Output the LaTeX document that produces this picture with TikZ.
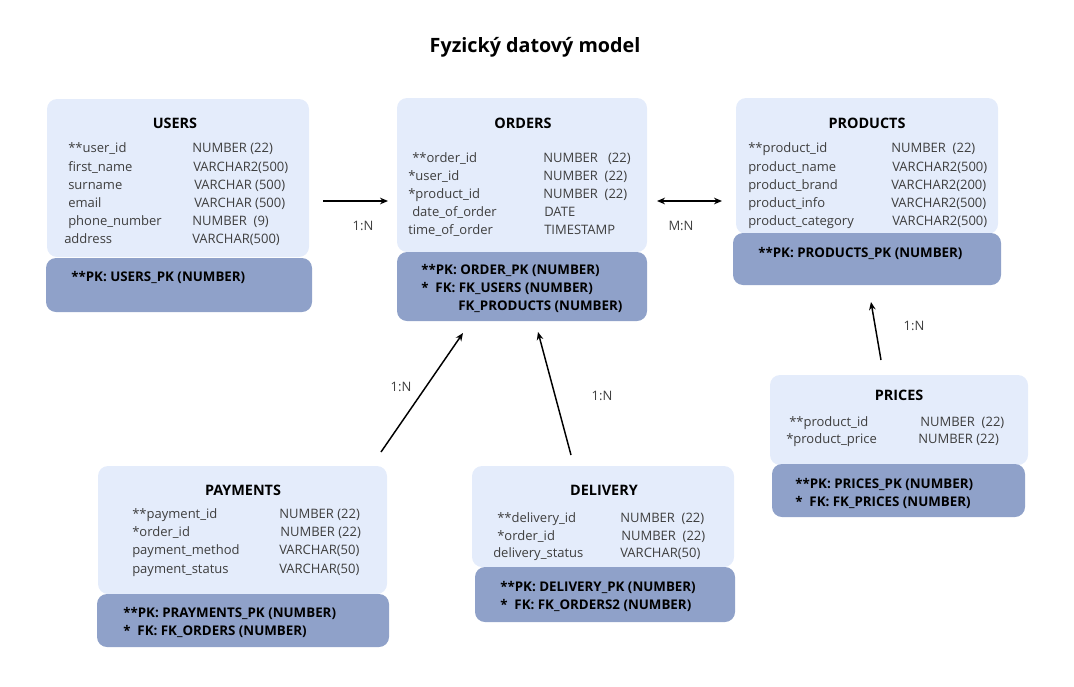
\documentclass[tikz,border=0pt]{standalone}
\usepackage{fontspec}
\setmainfont{Open Sans}
\usetikzlibrary{arrows.meta}
\definecolor{lightbox}{RGB}{228,236,251}
\definecolor{darkbox}{RGB}{143,161,201}
\definecolor{txtgray}{RGB}{62,62,62}
\tikzset{
 lbox/.style={fill=lightbox, rounded corners=7.5pt},
 dbox/.style={fill=darkbox, rounded corners=7.5pt},
 ttl/.style={anchor=mid, inner sep=0, yshift=-1.5pt, font=\fontsize{10.8}{13}\selectfont\bfseries},
 head/.style={anchor=mid, inner sep=0, yshift=-2.25pt, font=\fontsize{14.8}{18}\selectfont\bfseries},
 fld/.style={anchor=mid west, inner sep=0, yshift=-1.5pt, text=txtgray, font=\fontsize{9.75}{12}\selectfont},
 pk/.style={anchor=mid west, inner sep=0, yshift=-1.5pt, font=\fontsize{10}{12}\selectfont\bfseries},
 rel/.style={anchor=mid, inner sep=0, yshift=-1.5pt, text=txtgray, font=\fontsize{9.75}{12}\selectfont},
 conn/.style={line width=1.1pt, -{Stealth[length=6pt,width=5pt]}},
 conn2/.style={line width=1.1pt, {Stealth[length=6pt,width=5pt]}-{Stealth[length=6pt,width=5pt]}},
}
\begin{document}
\begin{tikzpicture}[x=0.75pt,y=-0.75pt]
\useasboundingbox (0,0) rectangle (1074,686);
\node[head] (title) at (535,46) {Fyzický datový model};

% USERS
\fill[lbox] (47,99) rectangle (309,257);
\fill[dbox] (46,258) rectangle (312,312);
\node[ttl] (usersT) at (175,123) {USERS};
\node[fld] (u1) at (68,147) {**user\_id};
\node[fld] (u2) at (68,166) {first\_name};
\node[fld] (u3) at (68,184) {surname};
\node[fld] (u4) at (68,202) {email};
\node[fld] (u5) at (68,220) {phone\_number};
\node[fld] (u6) at (64,238) {address};
\node[fld] (ut1) at (192,147) {NUMBER (22)};
\node[fld] (ut2) at (193,166) {VARCHAR2(500)};
\node[fld] (ut3) at (194,184) {VARCHAR (500)};
\node[fld] (ut4) at (194,202) {VARCHAR (500)};
\node[fld] (ut5) at (192,220) {NUMBER~ (9)};
\node[fld] (ut6) at (192,238) {VARCHAR(500)};
\node[pk] (upk) at (71,276) {**PK: USERS\_PK (NUMBER)};

% ORDERS
\fill[lbox] (397,98) rectangle (647,252);
\fill[dbox] (397,252) rectangle (647,321);
\node[ttl] (ordersT) at (523,123) {ORDERS};
\node[fld] (o1) at (412,157) {**order\_id};
\node[fld] (o2) at (408,175) {*user\_id};
\node[fld] (o3) at (408,193) {*product\_id};
\node[fld] (o4) at (412,211) {date\_of\_order};
\node[fld] (o5) at (408,229) {time\_of\_order};
\node[fld] (ot1) at (543,157) {NUMBER~~ (22)};
\node[fld] (ot2) at (543,175) {NUMBER~ (22)};
\node[fld] (ot3) at (543,193) {NUMBER~ (22)};
\node[fld] (ot4) at (544,211) {DATE};
\node[fld] (ot5) at (544,229) {TIMESTAMP};
\node[pk] (opk1) at (421,269) {**PK: ORDER\_PK (NUMBER)};
\node[pk] (opk2) at (421,287) {*~ FK: FK\_USERS (NUMBER)};
\node[pk] (opk3) at (458,305) {FK\_PRODUCTS (NUMBER)};

% PRODUCTS
\fill[lbox] (736,98) rectangle (998,234);
\fill[dbox] (733,233) rectangle (1001,285);
\node[ttl] (productsT) at (867,123) {PRODUCTS};
\node[fld] (p1) at (748,147) {**product\_id};
\node[fld] (p2) at (748,166) {product\_name};
\node[fld] (p3) at (748,184) {product\_brand};
\node[fld] (p4) at (748,202) {product\_info};
\node[fld] (p5) at (748,220) {product\_category};
\node[fld] (pt1) at (891,147) {NUMBER~ (22)};
\node[fld] (pt2) at (892,166) {VARCHAR2(500)};
\node[fld] (pt3) at (891,184) {VARCHAR2(200)};
\node[fld] (pt4) at (891,202) {VARCHAR2(500)};
\node[fld] (pt5) at (892,220) {VARCHAR2(500)};
\node[pk] (ppk) at (758,252) {**PK: PRODUCTS\_PK (NUMBER)};

% PRICES
\fill[lbox] (770,375) rectangle (1028,465);
\fill[dbox] (772,464) rectangle (1025,517);
\node[ttl] (pricesT) at (899,395) {PRICES};
\node[fld] (r1) at (789,421) {**product\_id};
\node[fld] (r2) at (786,438) {*product\_price};
\node[fld] (rt1) at (920,421) {NUMBER~ (22)};
\node[fld] (rt2) at (918,438) {NUMBER (22)};
\node[pk] (rpk1) at (795,483) {**PK: PRICES\_PK (NUMBER)};
\node[pk] (rpk2) at (795,501) {*~ FK: FK\_PRICES (NUMBER)};

% PAYMENTS
\fill[lbox] (98,466) rectangle (387,594);
\fill[dbox] (97,594) rectangle (389,647);
\node[ttl] (paymentsT) at (243,490) {PAYMENTS};
\node[fld] (y1) at (132,513) {**payment\_id};
\node[fld] (y2) at (132,531) {*order\_id};
\node[fld] (y3) at (132,549) {payment\_method};
\node[fld] (y4) at (132,568) {payment\_status};
\node[fld] (yt1) at (279,513) {NUMBER (22)};
\node[fld] (yt2) at (280,531) {NUMBER (22)};
\node[fld] (yt3) at (279,549) {VARCHAR(50)};
\node[fld] (yt4) at (279,568) {VARCHAR(50)};
\node[pk] (ypk1) at (123,612) {**PK: PRAYMENTS\_PK (NUMBER)};
\node[pk] (ypk2) at (123,630) {*~ FK: FK\_ORDERS (NUMBER)};

% DELIVERY
\fill[lbox] (472,466) rectangle (734,567);
\fill[dbox] (475,567) rectangle (735,622);
\node[ttl] (deliveryT) at (604,490) {DELIVERY};
\node[fld] (d1) at (497,517) {**delivery\_id};
\node[fld] (d2) at (497,535) {*order\_id};
\node[fld] (d3) at (493,552) {delivery\_status};
\node[fld] (dt1) at (620,517) {NUMBER~ (22)};
\node[fld] (dt2) at (621,535) {NUMBER~ (22)};
\node[fld] (dt3) at (620,552) {VARCHAR(50)};
\node[pk] (dpk1) at (500,586) {**PK: DELIVERY\_PK (NUMBER)};
\node[pk] (dpk2) at (500,604) {*~ FK: FK\_ORDERS2 (NUMBER)};

% connectors
\coordinate (a1s) at (323,201); \coordinate (a1e) at (388,201);
\coordinate (a2s) at (657,201); \coordinate (a2e) at (722,201);
\coordinate (a3s) at (381,452); \coordinate (a3e) at (463,333);
\coordinate (a4s) at (571,455); \coordinate (a4e) at (538,332);
\coordinate (a5s) at (881,360); \coordinate (a5e) at (871,302);
\draw[conn] (a1s) -- (a1e);
\draw[conn2] (a2s) -- (a2e);
\draw[conn] (a3s) -- (a3e);
\draw[conn] (a4s) -- (a4e);
\draw[conn] (a5s) -- (a5e);
\node[rel] (l1) at (363,225) {1:N};
\node[rel] (l2) at (681,225) {M:N};
\node[rel] (l3) at (401,386) {1:N};
\node[rel] (l4) at (602,395) {1:N};
\node[rel] (l5) at (914,325) {1:N};
\end{tikzpicture}
\end{document}
